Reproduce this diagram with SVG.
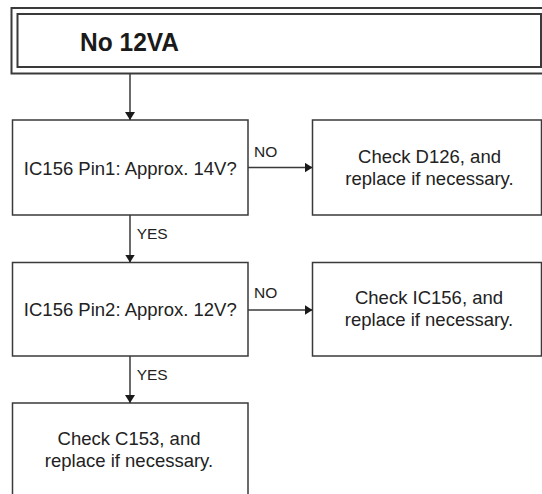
<svg xmlns="http://www.w3.org/2000/svg" width="542" height="494" viewBox="0 0 542 494">
  <style>
    .box { fill: #ffffff; stroke: #3a3a3a; stroke-width: 1.5; }
    .hdr { fill: #ffffff; stroke: #3a3a3a; stroke-width: 2; }
    .txt { font-family: "Liberation Sans", Arial, sans-serif; font-size: 18.5px; fill: #222222; }
    .lbl { font-family: "Liberation Sans", Arial, sans-serif; font-size: 15.5px; fill: #222222; }
    .title { font-family: "Liberation Sans", Arial, sans-serif; font-size: 25px; font-weight: bold; fill: #1a1a1a; }
    .conn { stroke: #3a3a3a; stroke-width: 1.5; fill: none; }
  </style>
  <defs>
    <marker id="arrow" markerUnits="userSpaceOnUse" markerWidth="10" markerHeight="10" refX="8" refY="5" orient="auto">
      <path d="M0,0 L8,5 L0,10 Z" fill="#1a1a1a"/>
    </marker>
  </defs>
  <rect x="0" y="0" width="542" height="494" fill="#ffffff"/>

  <g id="node-start">
    <rect class="hdr" x="11.5" y="8" width="560" height="65.5"/>
    <rect class="hdr" x="17.5" y="14" width="523.5" height="53"/>
    <text class="title" x="80" y="51" textLength="99" lengthAdjust="spacingAndGlyphs">No 12VA</text>
  </g>

  <g id="node-q1">
    <rect class="box" x="12.5" y="120" width="235.5" height="95"/>
    <text class="txt" x="130.3" y="175" text-anchor="middle">IC156 Pin1: Approx. 14V?</text>
  </g>

  <g id="node-d126">
    <rect class="box" x="312.5" y="120" width="229" height="95"/>
    <text class="txt" x="429.5" y="162.5" text-anchor="middle">Check D126, and</text>
    <text class="txt" x="429.5" y="184.5" text-anchor="middle">replace if necessary.</text>
  </g>

  <g id="node-q2">
    <rect class="box" x="12.5" y="262.5" width="235.5" height="93.5"/>
    <text class="txt" x="130.3" y="315.7" text-anchor="middle">IC156 Pin2: Approx. 12V?</text>
  </g>

  <g id="node-ic156">
    <rect class="box" x="312.5" y="262.5" width="229" height="93.5"/>
    <text class="txt" x="429" y="304" text-anchor="middle">Check IC156, and</text>
    <text class="txt" x="429" y="326" text-anchor="middle">replace if necessary.</text>
  </g>

  <g id="node-c153">
    <rect class="box" x="12.5" y="403" width="235.5" height="100"/>
    <text class="txt" x="129" y="445" text-anchor="middle">Check C153, and</text>
    <text class="txt" x="129" y="466.5" text-anchor="middle">replace if necessary.</text>
  </g>

  <g id="connectors">
    <line class="conn" x1="130" y1="73.5" x2="130" y2="120" marker-end="url(#arrow)"/>
    <line class="conn" x1="130" y1="215" x2="130" y2="262.5" marker-end="url(#arrow)"/>
    <line class="conn" x1="130" y1="356" x2="130" y2="403" marker-end="url(#arrow)"/>
    <line class="conn" x1="248" y1="167.5" x2="312.5" y2="167.5" marker-end="url(#arrow)"/>
    <line class="conn" x1="248" y1="310" x2="312.5" y2="310" marker-end="url(#arrow)"/>
    <text class="lbl" x="254" y="157">NO</text>
    <text class="lbl" x="254" y="298">NO</text>
    <text class="lbl" x="136.7" y="239.3">YES</text>
    <text class="lbl" x="136.7" y="380">YES</text>
  </g>
</svg>
